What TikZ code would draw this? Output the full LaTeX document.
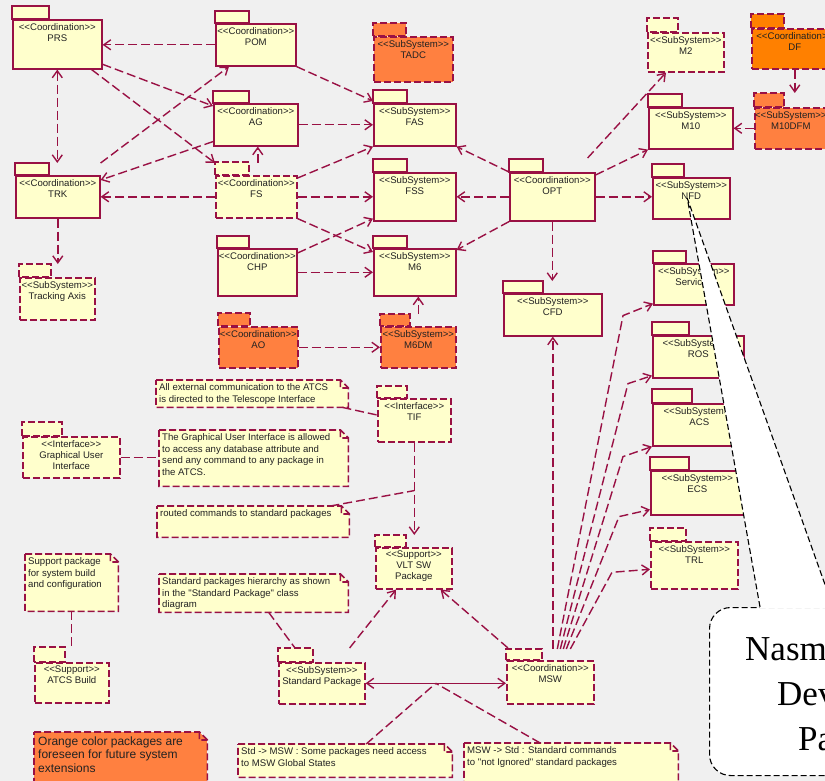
\documentclass[tikz,border=0pt]{standalone}
\usepackage{fontspec}
\newfontfamily\rosefont{Liberation Sans}
\newfontfamily\callfont{Liberation Serif}
\usetikzlibrary{arrows.meta,calc}
\definecolor{roseline}{RGB}{153,17,68}
\definecolor{roseyellow}{RGB}{255,255,204}
\definecolor{roseorange}{RGB}{255,128,64}
\definecolor{darkorange}{RGB}{255,128,0}
\definecolor{sheetgray}{RGB}{240,240,240}
\definecolor{inkgray}{RGB}{34,34,34}

\begin{document}
\begin{tikzpicture}[
    x=1pt, y=-1pt,
    >={Straight Barb[length=7pt,width=10pt]},
    pkg/.style={draw=roseline, fill=roseyellow, line width=1.6pt, anchor=north west, inner sep=0pt},
    dpkg/.style={pkg, dash pattern=on 7pt off 3pt},
    fpkg/.style={dpkg, fill=roseorange},
    pkgtext/.style={anchor=north, align=center, inner xsep=0pt, inner ysep=4pt, text=inkgray,
      font=\rosefont\fontsize{9.6}{11}\selectfont},
    note/.style={fill=roseyellow, anchor=north west, inner sep=0pt},
    notetext/.style={anchor=north west, align=left, inner xsep=3pt, inner ysep=3.5pt, text=inkgray,
      font=\rosefont\fontsize{9.6}{11.5}\selectfont},
    noteedge/.style={draw=roseline, line width=1.6pt, dash pattern=on 7pt off 3pt},
    dep/.style={draw=roseline, line width=1.4pt, dash pattern=on 9pt off 4pt, ->},
    link/.style={draw=roseline, line width=1.4pt, dash pattern=on 9pt off 4pt},
    callout/.style={draw=black, line width=1.1pt, dash pattern=on 6pt off 3pt}
  ]
  \useasboundingbox (0,0) rectangle (825,781);
  \clip (0,0) rectangle (825,781);
  \fill[sheetgray] (0,0) rectangle (825,781);

  % coordination packages
  \node[pkg, minimum width=89, minimum height=49, label={[pkgtext]north:{<<Coordination>>\\PRS}}] (prs) at (12,19) {};
  \draw[pkg] (prs.north west) rectangle ++(37,-13);
  \node[pkg, minimum width=80, minimum height=42, label={[pkgtext]north:{<<Coordination>>\\POM}}] (pom) at (215,23) {};
  \draw[pkg] (pom.north west) rectangle ++(34,-12);
  \node[pkg, minimum width=84, minimum height=42, label={[pkgtext]north:{<<Coordination>>\\AG}}] (ag) at (213,103) {};
  \draw[pkg] (ag.north west) rectangle ++(36,-12);
  \node[pkg, minimum width=84, minimum height=42, label={[pkgtext]north:{<<Coordination>>\\TRK}}] (trk) at (15,175) {};
  \draw[pkg] (trk.north west) rectangle ++(34,-12);
  \node[dpkg, minimum width=81, minimum height=42, label={[pkgtext]north:{<<Coordination>>\\FS}}] (fs) at (215,175) {};
  \draw[dpkg] (fs.north west) rectangle ++(34,-13);
  \node[pkg, minimum width=79, minimum height=47, label={[pkgtext]north:{<<Coordination>>\\CHP}}] (chp) at (217,248) {};
  \draw[pkg] (chp.north west) rectangle ++(32,-12);
  \node[fpkg, minimum width=79, minimum height=41, label={[pkgtext]north:{<<Coordination>>\\AO}}] (ao) at (218,326) {};
  \draw[fpkg] (ao.north west) rectangle ++(32,-13);
  \node[pkg, minimum width=85, minimum height=48, label={[pkgtext]north:{<<Coordination>>\\OPT}}] (opt) at (509,172) {};
  \draw[pkg] (opt.north west) rectangle ++(34,-13);
  \node[dpkg, fill=darkorange, minimum width=86, minimum height=40, label={[pkgtext]north:{<<Coordination>>\\DF}}] (df) at (751,28) {};
  \draw[dpkg, fill=darkorange] (df.north west) rectangle ++(33,-14);
  \node[dpkg, minimum width=87, minimum height=43, label={[pkgtext]north:{<<Coordination>>\\MSW}}] (msw) at (506,660) {};
  \draw[dpkg] (msw.north west) rectangle ++(36,-11);

  % subsystems
  \node[dpkg, minimum width=75, minimum height=42, label={[pkgtext]north:{<<SubSystem>>\\Tracking Axis}}] (trax) at (19,277) {};
  \draw[dpkg] (trax.north west) rectangle ++(32,-13);
  \node[fpkg, minimum width=79, minimum height=45, label={[pkgtext]north:{<<SubSystem>>\\TADC}}] (tadc) at (373,36) {};
  \draw[fpkg] (tadc.north west) rectangle ++(33,-13);
  \node[pkg, minimum width=82, minimum height=42, label={[pkgtext]north:{<<SubSystem>>\\FAS}}] (fas) at (373,103) {};
  \draw[pkg] (fas.north west) rectangle ++(34,-13);
  \node[pkg, minimum width=82, minimum height=48, label={[pkgtext]north:{<<SubSystem>>\\FSS}}] (fss) at (373,172) {};
  \draw[pkg] (fss.north west) rectangle ++(34,-13);
  \node[pkg, minimum width=82, minimum height=47, label={[pkgtext]north:{<<SubSystem>>\\M6}}] (msix) at (373,248) {};
  \draw[pkg] (msix.north west) rectangle ++(34,-12);
  \node[fpkg, minimum width=75, minimum height=41, label={[pkgtext]north:{<<SubSystem>>\\M6DM}}] (msixdm) at (380,326) {};
  \draw[fpkg] (msixdm.north west) rectangle ++(30,-12);
  \node[pkg, minimum width=98, minimum height=42, label={[pkgtext]north:{<<SubSystem>>\\CFD}}] (cfd) at (503,293) {};
  \draw[pkg] (cfd.north west) rectangle ++(40,-12);
  \node[dpkg, minimum width=76, minimum height=39, label={[pkgtext]north:{<<SubSystem>>\\M2}}] (mtwo) at (647,32) {};
  \draw[dpkg] (mtwo.north west) rectangle ++(31,-14);
  \node[pkg, minimum width=84, minimum height=41, label={[pkgtext]north:{<<SubSystem>>\\M10}}] (mten) at (648,107) {};
  \draw[pkg] (mten.north west) rectangle ++(34,-13);
  \node[fpkg, minimum width=72, minimum height=41, label={[pkgtext]north:{<<SubSystem>>\\M10DFM}}] (mtendfm) at (754,107) {};
  \draw[fpkg] (mtendfm.north west) rectangle ++(30,-14);
  \node[pkg, minimum width=77, minimum height=41, label={[pkgtext]north:{<<SubSystem>>\\NFD}}] (nfd) at (652,177) {};
  \draw[pkg] (nfd.north west) rectangle ++(32,-13);
  \node[pkg, minimum width=80, minimum height=41, label={[pkgtext]north:{<<SubSystem>>\\Services}}] (serv) at (653,263) {};
  \draw[pkg] (serv.north west) rectangle ++(33,-12);
  \node[pkg, minimum width=91, minimum height=42, label={[pkgtext]north:{<<SubSystem>>\\ROS}}] (ros) at (652,335) {};
  \draw[pkg] (ros.north west) rectangle ++(37,-13);
  \node[pkg, minimum width=93, minimum height=42, label={[pkgtext]north:{<<SubSystem>>\\ACS}}] (acs) at (652,403) {};
  \draw[pkg] (acs.north west) rectangle ++(40,-14);
  \node[pkg, minimum width=93, minimum height=44, label={[pkgtext]north:{<<SubSystem>>\\ECS}}] (ecs) at (650,470) {};
  \draw[pkg] (ecs.north west) rectangle ++(39,-13);
  \node[dpkg, minimum width=87, minimum height=47, label={[pkgtext]north:{<<SubSystem>>\\TRL}}] (trl) at (650,541) {};
  \draw[dpkg] (trl.north west) rectangle ++(36,-13);
  \node[dpkg, minimum width=86, minimum height=41, label={[pkgtext]north:{<<SubSystem>>\\Standard Package}}] (stdpkg) at (278,662) {};
  \draw[dpkg] (stdpkg.north west) rectangle ++(35,-14);

  % interfaces and support
  \node[dpkg, minimum width=73, minimum height=43, label={[pkgtext]north:{<<Interface>>\\TIF}}] (tif) at (377,398) {};
  \draw[dpkg] (tif.north west) rectangle ++(30,-12);
  \node[dpkg, minimum width=97, minimum height=41, label={[pkgtext]north:{<<Interface>>\\Graphical User\\Interface}}] (gui) at (22,436) {};
  \draw[dpkg] (gui.north west) rectangle ++(40,-14);
  \node[dpkg, minimum width=76, minimum height=41, label={[pkgtext]north:{<<Support>>\\VLT SW\\Package}}] (vlt) at (375,547) {};
  \draw[dpkg] (vlt.north west) rectangle ++(31,-12);
  \node[dpkg, minimum width=74, minimum height=40, label={[pkgtext]north:{<<Support>>\\ATCS Build}}] (build) at (34,662) {};
  \draw[dpkg] (build.north west) rectangle ++(31,-15);

  % notes
  \node[note, minimum width=192, minimum height=27, label={[notetext]north west:{All external communication to the ATCS\\is directed to the Telescope Interface}}] (extnote) at (156,380) {};
  \node[note, minimum width=189, minimum height=56, label={[notetext]north west:{The Graphical User Interface is allowed\\to access any database attribute and\\send any command to any package in\\the ATCS.}}] (guinote) at (159,430) {};
  \node[note, minimum width=192, minimum height=31, label={[notetext]north west:{routed commands to standard packages}}] (routenote) at (157,506) {};
  \node[note, minimum width=93, minimum height=57, label={[notetext]north west:{Support package\\for system build\\and configuration}}] (buildnote) at (25,554) {};
  \node[note, minimum width=189, minimum height=38, label={[notetext]north west:{Standard packages hierarchy as shown\\in the "Standard Package" class\\diagram}}] (stdnote) at (159,574) {};
  \node[note, fill=roseorange, minimum width=173, minimum height=60, label={[notetext, inner xsep=4pt, inner ysep=4.5pt, font=\rosefont\fontsize{12}{13.5}\selectfont]north west:{Orange color packages are\\foreseen for future system\\extensions}}] (orangenote) at (34,732) {};
  \node[note, minimum width=214, minimum height=33, label={[notetext]north west:{Std -> MSW : Some packages need access\\to MSW Global States}}] (stdmswnote) at (238,744) {};
  \node[note, minimum width=214, minimum height=45, label={[notetext]north west:{MSW -> Std : Standard commands\\to "not Ignored" standard packages}}] (mswstdnote) at (464,743) {};
  \foreach \nt in {extnote,guinote,routenote,buildnote,stdnote,orangenote,stdmswnote,mswstdnote}{
    \fill[sheetgray] ([xshift=-8pt]\nt.north east) -- (\nt.north east) -- ([yshift=-8pt]\nt.north east) -- cycle;
    \draw[noteedge] (\nt.north west) -- ([xshift=-8pt]\nt.north east) -- ([yshift=-8pt]\nt.north east)
      -- (\nt.south east) -- (\nt.south west) -- cycle
      ([xshift=-8pt]\nt.north east) |- ([yshift=-8pt]\nt.north east);
  }

  % dependencies, left part
  \draw[dep] (pom.west) -- (pom.west -| prs.east);
  \draw[dep] ([yshift=-20pt]prs.east) -- ([yshift=-3pt]ag.north west);
  \draw[dep] ([xshift=-11pt]prs.south east) -- ([yshift=12pt]fs.north west);
  \draw[dep,<->] (prs.south) -- ($(prs.south |- trk.north)+(0,-12)$);
  \draw[dep] ([yshift=12pt]trk.north east) -- ([xshift=14pt]pom.south west);
  \draw[dep] ([yshift=5pt]ag.south west) -- ([yshift=-5pt]trk.north east);
  \draw[dep] (fs.west) -- (fs.west -| trk.east);
  \draw[dep] ($(ag.south |- fs.north)+(2,-12)$) -- ($(ag.south)+(2,0)$);
  \draw[dep] (trk.south) -- ($(trk.south |- trax.north)+(0,-13)$);
  \draw[dep] (pom.south east) -- ([yshift=2pt]fas.north west);
  \draw[dep] (ag.east) -- (ag.east -| fas.west);
  \draw[dep] ([yshift=-3pt]fs.north east) -- (fas.south west);
  \draw[dep] (fs.east) -- (fs.east -| fss.west);
  \draw[dep] (fs.south east) -- ([yshift=-4pt]msix.north west);
  \draw[dep] ([yshift=-5pt]chp.north east) -- ([yshift=3pt]fss.south west);
  \draw[dep] (chp.east) -- (chp.east -| msix.west);
  \draw[dep] (ao.east) -- (ao.east -| msixdm.west);
  \draw[dep] ($(msixdm.north)+(0,-12)$) -- (msixdm.north |- msix.south);

  % dependencies of OPT
  \draw[dep] (opt.north west) -- (fas.south east);
  \draw[dep] (opt.west) -- (opt.west -| fss.east);
  \draw[dep] (opt.south west) -- ([yshift=-2pt]msix.north east);
  \draw[dep] ($(opt.north east)+(-8,-14)$) -- ([xshift=19pt]mtwo.south west);
  \draw[dep] ([yshift=-3pt]opt.north east) -- (mten.south west);
  \draw[dep] (opt.east) -- (opt.east -| nfd.west);
  \draw[dep] (opt.south) -- ($(opt.south |- cfd.north)+(0,-12)$);
  \draw[dep] (mtendfm.west) -- (mtendfm.west -| mten.east);
  \draw[dep] (df.south) -- ($(df.south |- mtendfm.north)+(0,-14)$);

  % dependencies of MSW
  \draw[dep] ($(cfd.south |- msw.north)+(0,-11)$) -- (cfd.south);
  \draw[dep] ($(msw.north)+(7,-11)$) -- ($(serv.south west)+(-30,10)$) -- ([yshift=2pt]serv.south west);
  \draw[dep] ($(msw.north)+(10,-11)$) -- ($(ros.south west)+(-24,5)$) -- ([yshift=3pt]ros.south west);
  \draw[dep] ($(msw.north)+(13,-11)$) -- ($(acs.south west)+(-29,10)$) -- (acs.south west);
  \draw[dep] ($(msw.north)+(16,-11)$) -- ($(ecs.south west)+(-31,1)$) -- ([yshift=6pt]ecs.south west);
  \draw[dep] ($(msw.north)+(20,-11)$) -- ($(trl.west)+(-38,7)$) -- ([yshift=-4pt]trl.west);
  \draw[dep] ($(msw.north west)+(2,-12)$) -- ([xshift=-12pt]vlt.south east);
  \draw[dep] ($(stdpkg.north east)+(-16,-14)$) -- ([xshift=21pt]vlt.south west);
  \draw[dep,<->,solid] (stdpkg.east) -- (stdpkg.east -| msw.west);
  \coordinate (stdmsw) at ($(stdpkg.east)!0.5!(stdpkg.east -| msw.west)$);
  \draw[dep] (tif.south) -- ($(tif.south |- vlt.north)+(0,-12)$);
  \coordinate (tifvlt) at ($(tif.south)+(0,48)$);

  % note links
  \draw[link] ([xshift=-6pt]extnote.south east) -- ([yshift=-17pt]tif.north west);
  \draw[link] (gui.east) -- (gui.east -| guinote.west);
  \draw[link] ([xshift=-19pt]routenote.north east) -- (tifvlt);
  \draw[link] (buildnote.south) -- ($(buildnote.south |- build.north)+(0,-15)$);
  \draw[link] ([xshift=15pt]stdnote.south) -- ($(stdpkg.north west)+(17,-14)$);
  \draw[link] ([xshift=21pt]stdmswnote.north) -- (stdmsw);
  \draw[link] ([xshift=-31pt]mswstdnote.north) -- (stdmsw);

  % callout on NFD
  \node[callout, fill=white, rounded corners=21pt, anchor=north west, inner sep=0pt,
    minimum width=230, minimum height=168] (nfdcall) at (709,607) {};
  \fill[white] ([xshift=-4pt]nfd.center) -- ([xshift=51pt,yshift=-1.5pt]nfdcall.north west)
    -- ([xshift=124pt,yshift=-1.5pt]nfdcall.north west) -- cycle;
  \draw[callout] ([xshift=51pt]nfdcall.north west) -- ([xshift=-4pt]nfd.center) -- ([xshift=124pt]nfdcall.north west);
  \node[anchor=north west, align=left, inner sep=0pt, font=\callfont\fontsize{35}{45}\selectfont] (nfdtext)
    at (745,636) {Nasmyth Focus\\\hspace*{32pt}Devices\\\hspace*{53pt}Package};
\end{tikzpicture}
\end{document}
